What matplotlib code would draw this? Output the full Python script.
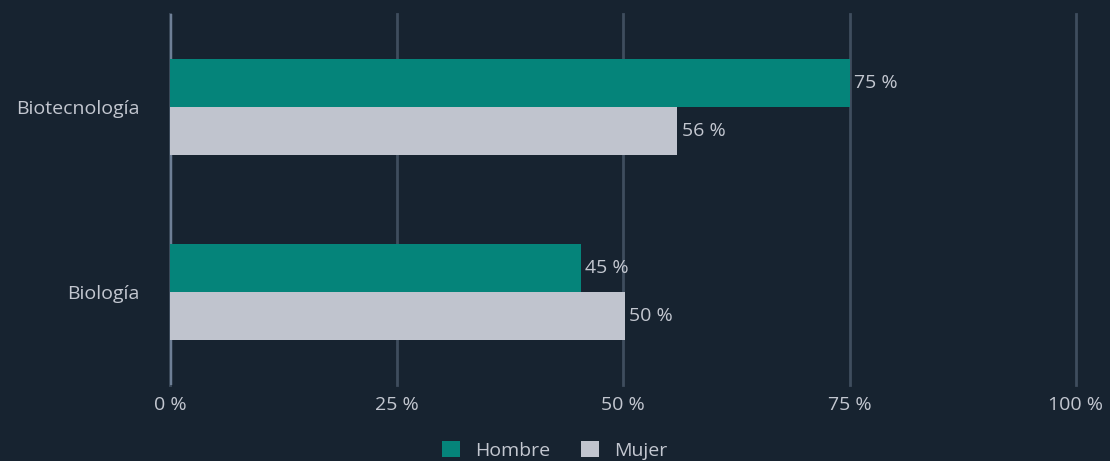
import matplotlib.pyplot as plt
import numpy as np

plt.rcParams['font.family'] = ['Open Sans', 'DejaVu Sans']

categories = ["Biología", "Biotecnología"]
hombre = [45.4, 75]
mujer = [50.2, 56]
series_names = ["Hombre", "Mujer"]
tick_values = [0, 25, 50, 75, 100]

bg = "#172330"
teal = "#05847a"
light = "#c0c4ce"
text_col = "#c3c7d0"

fig = plt.figure(figsize=(11.1, 4.61), dpi=100, facecolor=bg)
ax = fig.add_axes([170 / 1110, 76 / 461, 906 / 1110, 371 / 461])
ax.set_facecolor(bg)

y = np.arange(len(categories))
h = 0.26
b1 = ax.barh(y + h / 2, hombre, height=h, color=teal, label=series_names[0], zorder=3)
b2 = ax.barh(y - h / 2, mujer, height=h, color=light, label=series_names[1], zorder=3)

for bars, vals in ((b1, hombre), (b2, mujer)):
    for bar, v in zip(bars, vals):
        ax.annotate(f"{round(v)} %", (bar.get_width(), bar.get_y() + bar.get_height() / 2),
                    xytext=(3, 0), textcoords="offset points", va="center", ha="left",
                    color=text_col, fontsize=14)

ax.set_xlim(0, 100)
ax.set_ylim(-0.5, 1.5)
ax.set_xticks(tick_values)
ax.set_xticklabels([f"{t} %" for t in tick_values])
ax.set_yticks(y)
ax.set_yticklabels(categories)
ax.tick_params(axis="both", length=0, colors=text_col, labelsize=14)
ax.tick_params(axis="x", pad=8)
ax.tick_params(axis="y", pad=22)

ax.grid(axis="x", color="#3f4d5e", linewidth=2, zorder=0)
for gl in ax.get_xgridlines():
    gl.set_clip_on(False)
ax.axvline(0, color="#6e7f96", linewidth=2.5, zorder=2)
for s in ax.spines.values():
    s.set_visible(False)

leg = fig.legend(handles=[b1, b2], loc="lower center", bbox_to_anchor=(0.5, -0.035), ncol=2,
                 frameon=False, fontsize=14, handlelength=0.9, handleheight=0.9,
                 columnspacing=1.6, handletextpad=0.8)
for t in leg.get_texts():
    t.set_color(text_col)

fig.savefig("out.png", dpi=100, facecolor=bg)
